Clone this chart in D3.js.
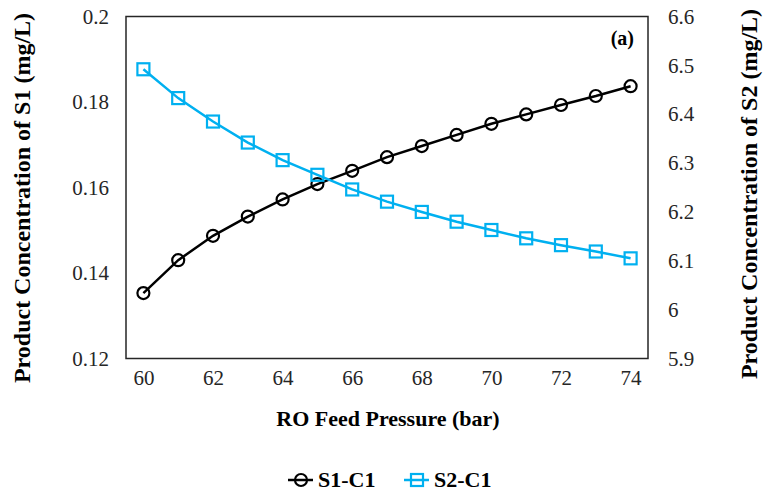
<!DOCTYPE html>
<html>
<head>
<meta charset="utf-8">
<script src="https://cdn.jsdelivr.net/npm/d3@7"></script>
</head>
<body style="margin:0; background:#fff;">
<div id="chart"></div>
<script>
// data
var pressure = [60, 61, 62, 63, 64, 65, 66, 67, 68, 69, 70, 71, 72, 73, 74];
var s1c1 = [0.1353, 0.1430, 0.1487, 0.1532, 0.1572, 0.1608, 0.1639, 0.1671,
            0.1697, 0.1723, 0.1749, 0.1771, 0.1793, 0.1814, 0.1837];
var s2c1 = [6.492, 6.433, 6.385, 6.342, 6.306, 6.276, 6.246, 6.221,
            6.200, 6.180, 6.163, 6.146, 6.132, 6.119, 6.105];
var xTicks = [60, 62, 64, 66, 68, 70, 72, 74];
var leftTicks = [0.12, 0.14, 0.16, 0.18, 0.2];
var rightTicks = [5.9, 6, 6.1, 6.2, 6.3, 6.4, 6.5, 6.6];
var seriesNames = ["S1-C1", "S2-C1"];

function init() {
    var w = 766;
    var h = 495;
    var padding = { top: 16.5, right: 118, bottom: 136.5, left: 126 };
    var blue = "#00B0F0";
    var font = "'Liberation Serif', 'Times New Roman', serif";

    var svg = d3.select("#chart")
        .append("svg")
        .attr("width", w)
        .attr("height", h)
        .style("font-family", font);

    var xScale = d3.scaleLinear().domain([59.5, 74.5]).range([padding.left, w - padding.right]);
    var yLeft = d3.scaleLinear().domain([0.12, 0.2]).range([h - padding.bottom, padding.top]);
    var yRight = d3.scaleLinear().domain([5.9, 6.6]).range([h - padding.bottom, padding.top]);

    // frame
    svg.append("rect")
        .attr("x", padding.left)
        .attr("y", padding.top)
        .attr("width", w - padding.right - padding.left)
        .attr("height", h - padding.bottom - padding.top)
        .attr("fill", "none")
        .attr("stroke", "#262626")
        .attr("stroke-width", 1.5);

    // axes
    var gx = svg.append("g")
        .attr("transform", "translate(0," + (h - padding.bottom) + ")")
        .call(d3.axisBottom(xScale).tickValues(xTicks).tickSize(0).tickPadding(12).tickFormat(d3.format("d")));
    var gl = svg.append("g")
        .attr("transform", "translate(" + padding.left + ",0)")
        .call(d3.axisLeft(yLeft).tickValues(leftTicks).tickSize(0).tickPadding(17).tickFormat(d => String(+d.toFixed(2))));
    var gr = svg.append("g")
        .attr("transform", "translate(" + (w - padding.right) + ",0)")
        .call(d3.axisRight(yRight).tickValues(rightTicks).tickSize(0).tickPadding(20).tickFormat(d => String(+d.toFixed(1))));

    [gx, gl, gr].forEach(function(g) {
        g.select(".domain").remove();
        g.attr("font-family", null).attr("font-size", null);
        g.selectAll("text")
            .style("font-family", font)
            .style("font-size", "21px")
            .attr("fill", "#262626");
    });

    // lines
    var lineLeft = d3.line()
        .x((d, i) => xScale(pressure[i]))
        .y(d => yLeft(d));
    var lineRight = d3.line()
        .x((d, i) => xScale(pressure[i]))
        .y(d => yRight(d));

    svg.append("path")
        .datum(s1c1)
        .attr("fill", "none")
        .attr("stroke", "#000")
        .attr("stroke-width", 2.5)
        .attr("d", lineLeft);

    svg.append("path")
        .datum(s2c1)
        .attr("fill", "none")
        .attr("stroke", blue)
        .attr("stroke-width", 2.5)
        .attr("d", lineRight);

    svg.selectAll(".m1")
        .data(s1c1)
        .enter().append("circle")
        .attr("cx", (d, i) => xScale(pressure[i]))
        .attr("cy", d => yLeft(d))
        .attr("r", 6)
        .attr("fill", "none")
        .attr("stroke", "#000")
        .attr("stroke-width", 2.2);

    svg.selectAll(".m2")
        .data(s2c1)
        .enter().append("rect")
        .attr("x", (d, i) => xScale(pressure[i]) - 6)
        .attr("y", d => yRight(d) - 6)
        .attr("width", 12)
        .attr("height", 12)
        .attr("fill", "none")
        .attr("stroke", blue)
        .attr("stroke-width", 2.2);

    // panel label
    svg.append("text")
        .attr("x", 634)
        .attr("y", 45)
        .attr("text-anchor", "end")
        .attr("font-weight", "bold")
        .style("font-size", "20px")
        .text("(a)");

    // axis titles
    svg.append("text")
        .attr("text-anchor", "middle")
        .attr("font-weight", "bold")
        .style("font-size", "22px")
        .attr("x", 388)
        .attr("y", 426)
        .text("RO Feed Pressure (bar)");

    svg.append("text")
        .attr("text-anchor", "middle")
        .attr("font-weight", "bold")
        .style("font-size", "24px")
        .attr("transform", "rotate(-90)")
        .attr("x", -198)
        .attr("y", 30)
        .text("Product Concentration of S1 (mg/L)");

    svg.append("text")
        .attr("text-anchor", "middle")
        .attr("font-weight", "bold")
        .style("font-size", "24px")
        .attr("transform", "rotate(-90)")
        .attr("x", -194)
        .attr("y", 757)
        .text("Product Concentration of S2 (mg/L)");

    // legend
    var legend = svg.append("g").attr("transform", "translate(0,480)");
    var lx = [288, 404];
    var lcol = ["#000", blue];
    seriesNames.forEach(function(name, i) {
        var g = legend.append("g").attr("transform", "translate(" + lx[i] + ",0)");
        g.append("line")
            .attr("x1", 0).attr("x2", 25)
            .attr("y1", 0).attr("y2", 0)
            .attr("stroke", lcol[i])
            .attr("stroke-width", 2.5);
        if (i === 0) {
            g.append("circle").attr("cx", 13).attr("cy", 0).attr("r", 6)
                .attr("fill", "none").attr("stroke", lcol[i]).attr("stroke-width", 2.2);
        } else {
            g.append("rect").attr("x", 7).attr("y", -6).attr("width", 12).attr("height", 12)
                .attr("fill", "none").attr("stroke", lcol[i]).attr("stroke-width", 2.2);
        }
        g.append("text")
            .attr("x", 30)
            .attr("y", 7)
            .attr("font-weight", "bold")
            .style("font-size", "22px")
            .text(name);
    });
}

window.onload = init;
</script>
</body>
</html>
